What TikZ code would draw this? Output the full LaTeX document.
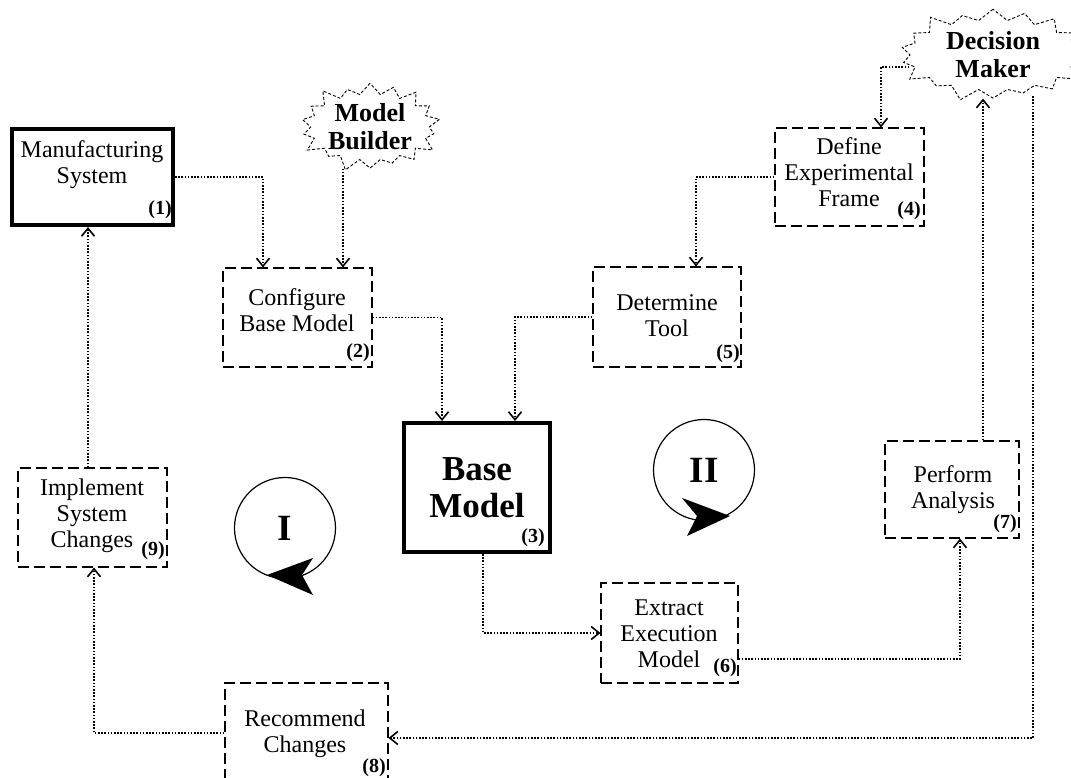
\documentclass[tikz,border=0pt]{standalone}
\usepackage{fontspec}
\setmainfont{Liberation Serif}
\usetikzlibrary{arrows.meta,shapes.symbols,calc}

\begin{document}
\begin{tikzpicture}[x=1pt,y=-1pt,
  every node/.style={inner sep=0pt},
  dashbox/.style={draw, rectangle, line width=1.1pt, dash pattern=on 11pt off 5pt},
  thickbox/.style={draw, rectangle, line width=4pt},
  boxtext/.style={align=center, font=\fontsize{24}{26}\selectfont},
  bigtext/.style={align=center, font=\bfseries\fontsize{35}{37}\selectfont},
  stepnum/.style={anchor=south east, font=\bfseries\fontsize{20}{20}\selectfont},
  actor/.style={shape=starburst, draw, line width=0.9pt, dash pattern=on 3pt off 2pt,
    align=center, font=\bfseries\fontsize{26}{28}\selectfont,
    starburst points=18, starburst point height=15pt},
  conn/.style={draw, line width=1.1pt, dash pattern=on 1.6pt off 1.6pt,
    -{Straight Barb[length=8pt,width=13pt,line width=1.6pt]}},
  loopmark/.style={circle, draw, line width=1.2pt, minimum size=101pt,
    font=\bfseries\fontsize{37}{37}\selectfont}
]
\fill[white] (0,0) rectangle (1071,778);
\useasboundingbox (0,0) rectangle (1071,778);
\clip (0,0) rectangle (1071,778);

% ---- actors ----
\node[actor, minimum width=136pt, minimum height=96pt] (mb) at (370,127) {Model\\Builder};
\node[actor, minimum width=196pt, minimum height=100pt] (dm) at (993,55) {Decision\\Maker};

% ---- process steps ----
\node[thickbox, minimum width=161pt, minimum height=96pt] (ms) at (92.5,177) {};
\node[boxtext] (ms-t) at (92,165) {Manufacturing\\System};
\node[stepnum] (ms-n) at (172,219) {(1)};

\node[dashbox, minimum width=149pt, minimum height=99pt] (cfg) at (297.5,317.5) {};
\node[boxtext] (cfg-t) at (297,310) {Configure\\Base Model};
\node[stepnum] (cfg-n) at (370,362) {(2)};

\node[thickbox, minimum width=146pt, minimum height=129pt] (bm) at (477,487.5) {};
\node[bigtext] (bm-t) at (477,488) {Base\\Model};
\node[stepnum] (bm-n) at (545,547) {(3)};

\node[dashbox, minimum width=149pt, minimum height=98pt] (def) at (849.5,177) {};
\node[boxtext] (def-t) at (849,172) {Define\\Experimental\\Frame};
\node[stepnum] (def-n) at (921,220) {(4)};

\node[dashbox, minimum width=148pt, minimum height=100pt] (det) at (667,317) {};
\node[boxtext] (det-t) at (667,316) {Determine\\Tool};
\node[stepnum] (det-n) at (740,363) {(5)};

\node[dashbox, minimum width=137pt, minimum height=100pt] (ext) at (669.5,633) {};
\node[boxtext] (ext-t) at (669,634) {Extract\\Execution\\Model};
\node[stepnum] (ext-n) at (737,677) {(6)};

\node[dashbox, minimum width=134pt, minimum height=97pt] (per) at (952,489.5) {};
\node[boxtext] (per-t) at (953,490) {Perform\\Analysis};
\node[stepnum] (per-n) at (1017,533) {(7)};

\node[dashbox, minimum width=163pt, minimum height=100pt] (rec) at (306.5,733) {};
\node[boxtext] (rec-t) at (305,734) {Recommend\\Changes};
\node[stepnum] (rec-n) at (386,777) {(8)};

\node[dashbox, minimum width=149pt, minimum height=99pt] (imp) at (92.5,517.5) {};
\node[boxtext] (imp-t) at (92,516) {Implement\\System\\Changes};
\node[stepnum] (imp-n) at (165,560) {(9)};

% ---- loop markers ----
\node[loopmark] (loopI) at (285,528) {I};
\fill (267,575) -- (313,558) -- (302,575) -- (313,595) -- cycle;
\node[loopmark] (loopII) at (704,470) {II};
\fill (730,516) -- (682,498) -- (697,516) -- (687,536) -- cycle;

% ---- connectors ----
\coordinate (cfgA) at ([xshift=-34.5pt]cfg.north);
\coordinate (cfgB) at ([xshift=45.5pt]cfg.north);
\coordinate (defA) at ([xshift=31.5pt]def.north);
\coordinate (detA) at ([xshift=29pt]det.north);
\coordinate (bmA) at ([xshift=-35pt]bm.north);
\coordinate (bmB) at ([xshift=38pt]bm.north);
\coordinate (bmOut) at ([xshift=6pt]bm.south);
\coordinate (extOut) at ([yshift=-26pt]ext.east);
\coordinate (perIn) at ([xshift=8pt]per.south);
\coordinate (perOut) at ([xshift=31pt]per.north);
\coordinate (dmOut) at (1033,96);
\coordinate (recIn) at ([yshift=-5pt]rec.east);
\coordinate (impIn) at ([xshift=1.5pt]imp.south);
\coordinate (impOut) at ([xshift=-4.5pt]imp.north);

\draw[conn] (ms.east) -| (cfgA);
\draw[conn] (cfgB |- mb.south) -- (cfgB);
\draw[conn] ([yshift=-12pt]dm.west) -| (defA);
\draw[conn] (def.west) -| (detA);
\draw[conn] (cfg.east) -| (bmA);
\draw[conn] (det.west) -| (bmB);
\draw[conn] (bmOut) |- (ext.west);
\draw[conn] (extOut) -| (perIn);
\draw[conn] (perOut) -- (perOut |- dm.south);
\draw[conn] (dmOut) |- (recIn);
\draw[conn] (rec.west) -| (impIn);
\draw[conn] (impOut) -- (impOut |- ms.south);
\end{tikzpicture}
\end{document}
